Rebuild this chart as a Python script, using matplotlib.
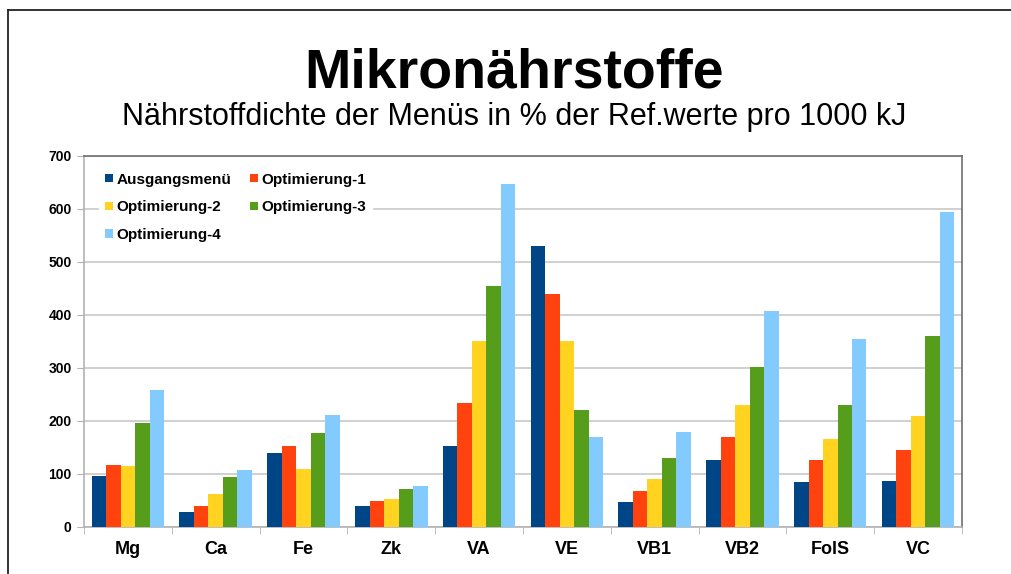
import numpy as np
import matplotlib.pyplot as plt
from matplotlib.lines import Line2D

plt.rcParams['font.family'] = ['Liberation Sans', 'DejaVu Sans']

categories = ['Mg', 'Ca', 'Fe', 'Zk', 'VA', 'VE', 'VB1', 'VB2', 'FolS', 'VC']
series_names = ['Ausgangsmenü', 'Optimierung-1', 'Optimierung-2', 'Optimierung-3', 'Optimierung-4']
ausgang = [96, 27, 139, 40, 152, 530, 47, 125, 84, 87]
opt1 = [116, 40, 153, 48, 233, 439, 67, 170, 125, 145]
opt2 = [114, 62, 109, 52, 350, 350, 90, 229, 165, 209]
opt3 = [195, 93, 177, 72, 455, 221, 130, 301, 230, 360]
opt4 = [258, 107, 211, 77, 646, 170, 179, 407, 355, 594]
colors = ['#004586', '#ff420e', '#ffd320', '#579d1c', '#83caff']

series = [ausgang, opt1, opt2, opt3, opt4]

fig = plt.figure(figsize=(10.11, 5.74), dpi=100)
ax = fig.add_axes([0.0831, 0.0824, 0.8684, 0.6463])

x = np.arange(len(categories))
w = 0.165
bars = []
for i, (vals, name) in enumerate(zip(series, series_names)):
    bars.append(ax.bar(x + (i - 2) * w, vals, w, color=colors[i], label=name, zorder=3))

ax.set_xlim(-0.5, len(categories) - 0.5)
ax.set_ylim(0, 700)
ax.set_yticks(range(0, 701, 100))
ax.yaxis.grid(True, color='#c8c8c8', linewidth=1.2, zorder=0)
ax.set_axisbelow(True)

ax.set_xticks(x)
ax.set_xticklabels(categories, fontsize=13, fontweight='bold')
ax.set_xticks(np.arange(-0.5, len(categories), 1), minor=True)
ax.tick_params(axis='x', which='major', length=0, pad=10)
ax.tick_params(axis='x', which='minor', length=5, color='#b3b3b3')
ax.tick_params(axis='y', length=5, color='#b3b3b3', labelsize=10, pad=4)
for lab in ax.get_yticklabels():
    lab.set_fontweight('bold')

for s in ['left', 'bottom']:
    ax.spines[s].set_color('#b3b3b3')
    ax.spines[s].set_linewidth(1.2)
for s in ['top', 'right']:
    ax.spines[s].set_color('#6e6e6e')
    ax.spines[s].set_linewidth(1.2)

# row-wise legend order: matplotlib fills columns first
order = [0, 2, 4, 1, 3]
leg = ax.legend([bars[i] for i in order], [series_names[i] for i in order],
                loc='upper left', bbox_to_anchor=(0.005, 1.0), ncol=2, frameon=True,
                fancybox=False, edgecolor='white', framealpha=1,
                handlelength=0.5, handleheight=0.5, handletextpad=0.25,
                columnspacing=1.2, borderaxespad=0.7, borderpad=0.4,
                labelspacing=0.9, prop={'weight': 'bold', 'size': 11})

fig.text(514 / 1011, 1 - 87 / 574, 'Mikronährstoffe', ha='center', va='baseline',
         fontsize=40, fontweight='bold')
fig.text(514 / 1011, 1 - 125 / 574, 'Nährstoffdichte der Menüs in % der Ref.werte pro 1000 kJ',
         ha='center', va='baseline', fontsize=22)

# outer frame (top and left edges visible)
fig.add_artist(Line2D([8 / 1011, 1.0], [1 - 10 / 574, 1 - 10 / 574], color='#222222', lw=1.3))
fig.add_artist(Line2D([8 / 1011, 8 / 1011], [0, 1 - 10 / 574], color='#222222', lw=1.3))

fig.savefig('out.png', dpi=100)
